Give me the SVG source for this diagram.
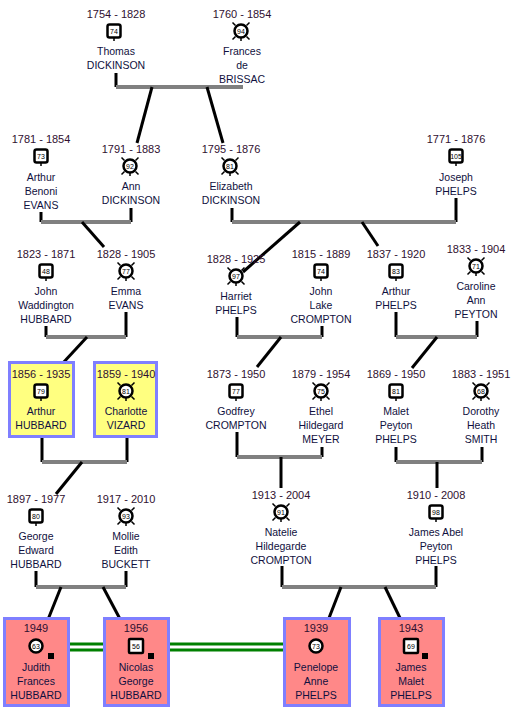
<svg xmlns="http://www.w3.org/2000/svg" xmlns:xlink="http://www.w3.org/1999/xlink" width="515" height="710" viewBox="0 0 515 710">
<style>
.d{font-family:"Liberation Sans",Arial,sans-serif;font-size:11px;fill:#301030;text-anchor:middle}
.n{font-family:"Liberation Sans",Arial,sans-serif;font-size:10.5px;fill:#101040;text-anchor:middle}
.num{font-family:"Liberation Sans",Arial,sans-serif;font-size:7px;fill:#000;text-anchor:middle}
.ic{fill:#fff;stroke:#000;stroke-width:2.5}
.tk{stroke:#000;stroke-width:1.5}
.stub{stroke:#000;stroke-width:3;fill:none}
.cpl{stroke:#808080;stroke-width:4;fill:none}
.kid{stroke:#000;stroke-width:3;fill:none}
.mar{stroke:#008000;stroke-width:3;fill:none}
.yb{fill:#ffff80;stroke:#7f7fff;stroke-width:3}
.pb{fill:#ff8888;stroke:#7f7fff;stroke-width:3}
.sq{fill:#000}
</style>
<defs>
<g id="m"><line class="tk" x1="0" y1="7" x2="0" y2="10" stroke-width="2"/><rect class="ic" x="-6.5" y="-6.5" width="13" height="13" rx="2"/></g>
<g id="f"><path class="tk" d="M5.5 5.5L8.5 8.5M-5.5 5.5L-8.5 8.5M5.5 -5.5L8.5 -8.5M-5.5 -5.5L-8.5 -8.5"/><line class="tk" x1="0" y1="7" x2="0" y2="10" stroke-width="2"/><circle class="ic" r="6.5"/></g>
<g id="ml"><rect class="ic" x="-7" y="-7" width="14" height="14" rx="1"/></g>
<g id="fl"><circle class="ic" r="6.5"/></g>
</defs>

<g id="connectors">
<line class="mar" x1="44" y1="644" x2="284" y2="644"/>
<line class="mar" x1="44" y1="650" x2="284" y2="650"/>
<line class="stub" x1="116" y1="73" x2="116" y2="87"/>
<line class="cpl" x1="116" y1="87" x2="243" y2="87"/>
<line class="kid" x1="152" y1="87" x2="137" y2="143"/>
<line class="kid" x1="207" y1="87" x2="223" y2="143"/>
<line class="stub" x1="41" y1="212" x2="41" y2="222"/>
<line class="stub" x1="131" y1="208" x2="131" y2="222"/>
<line class="cpl" x1="41" y1="222" x2="131" y2="222"/>
<line class="kid" x1="82" y1="222" x2="104" y2="247"/>
<line class="stub" x1="232" y1="208" x2="232" y2="222"/>
<line class="stub" x1="456" y1="198" x2="456" y2="222"/>
<line class="cpl" x1="232" y1="222" x2="456" y2="222"/>
<line class="kid" x1="300" y1="222" x2="243" y2="272"/>
<line class="kid" x1="362" y1="222" x2="378" y2="246"/>
<line class="stub" x1="46" y1="326" x2="46" y2="337"/>
<line class="stub" x1="126" y1="312" x2="126" y2="337"/>
<line class="cpl" x1="46" y1="337" x2="126" y2="337"/>
<line class="kid" x1="87" y1="337" x2="62" y2="364"/>
<line class="stub" x1="237" y1="317" x2="237" y2="337"/>
<line class="stub" x1="322" y1="326" x2="322" y2="337"/>
<line class="cpl" x1="237" y1="337" x2="322" y2="337"/>
<line class="kid" x1="281" y1="337" x2="257" y2="367"/>
<line class="stub" x1="396" y1="312" x2="396" y2="337"/>
<line class="stub" x1="477" y1="321" x2="477" y2="337"/>
<line class="cpl" x1="396" y1="337" x2="477" y2="337"/>
<line class="kid" x1="437" y1="337" x2="412" y2="368"/>
<line class="stub" x1="42" y1="432" x2="42" y2="462"/>
<line class="stub" x1="127" y1="432" x2="127" y2="462"/>
<line class="cpl" x1="42" y1="462" x2="127" y2="462"/>
<line class="kid" x1="82" y1="462" x2="56" y2="494"/>
<line class="stub" x1="237" y1="432" x2="237" y2="457"/>
<line class="stub" x1="322" y1="447" x2="322" y2="457"/>
<line class="cpl" x1="237" y1="457" x2="322" y2="457"/>
<line class="kid" x1="281" y1="457" x2="281" y2="488"/>
<line class="stub" x1="396" y1="447" x2="396" y2="462"/>
<line class="stub" x1="482" y1="447" x2="482" y2="462"/>
<line class="cpl" x1="396" y1="462" x2="482" y2="462"/>
<line class="kid" x1="437" y1="462" x2="437" y2="488"/>
<line class="stub" x1="36" y1="571" x2="36" y2="587"/>
<line class="stub" x1="126" y1="571" x2="126" y2="587"/>
<line class="cpl" x1="36" y1="587" x2="126" y2="587"/>
<line class="kid" x1="61" y1="587" x2="47" y2="622"/>
<line class="kid" x1="103" y1="587" x2="120" y2="619"/>
<line class="stub" x1="282" y1="566" x2="282" y2="587"/>
<line class="stub" x1="436" y1="566" x2="436" y2="587"/>
<line class="cpl" x1="282" y1="587" x2="436" y2="587"/>
<line class="kid" x1="341" y1="587" x2="329" y2="618"/>
<line class="kid" x1="385" y1="587" x2="400" y2="618"/>
</g>

<g id="thomas"><text class="d" x="116" y="18">1754 - 1828</text><use xlink:href="#m" x="114" y="31"/><text class="num" x="114" y="33.5">74</text><text class="n" x="116" y="55">Thomas</text><text class="n" x="116" y="69">DICKINSON</text></g>
<g id="frances"><text class="d" x="242" y="18">1760 - 1854</text><use xlink:href="#f" x="241" y="31"/><text class="num" x="241" y="33.5">94</text><text class="n" x="242" y="55">Frances</text><text class="n" x="242" y="69">de</text><text class="n" x="242" y="83">BRISSAC</text></g>
<g id="arthur-evans"><text class="d" x="41" y="143">1781 - 1854</text><use xlink:href="#m" x="41" y="156"/><text class="num" x="41" y="158.5">73</text><text class="n" x="41" y="181">Arthur</text><text class="n" x="41" y="195">Benoni</text><text class="n" x="41" y="209">EVANS</text></g>
<g id="ann"><text class="d" x="131" y="153">1791 - 1883</text><use xlink:href="#f" x="130" y="166"/><text class="num" x="130" y="168.5">92</text><text class="n" x="131" y="190">Ann</text><text class="n" x="131" y="204">DICKINSON</text></g>
<g id="elizabeth"><text class="d" x="231" y="153">1795 - 1876</text><use xlink:href="#f" x="230" y="166"/><text class="num" x="230" y="168.5">81</text><text class="n" x="231" y="190">Elizabeth</text><text class="n" x="231" y="204">DICKINSON</text></g>
<g id="joseph"><text class="d" x="456" y="143">1771 - 1876</text><use xlink:href="#m" x="456" y="156"/><text class="num" x="456" y="158.5" font-size="6.5">105</text><text class="n" x="456" y="181">Joseph</text><text class="n" x="456" y="195">PHELPS</text></g>
<g id="john-w"><text class="d" x="46" y="258">1823 - 1871</text><use xlink:href="#m" x="46" y="271"/><text class="num" x="46" y="273.5">48</text><text class="n" x="46" y="295">John</text><text class="n" x="46" y="309">Waddington</text><text class="n" x="46" y="323">HUBBARD</text></g>
<g id="emma"><text class="d" x="126" y="258">1828 - 1905</text><use xlink:href="#f" x="126" y="271"/><text class="num" x="126" y="273.5">77</text><text class="n" x="126" y="295">Emma</text><text class="n" x="126" y="309">EVANS</text></g>
<g id="harriet"><text class="d" x="236" y="263">1828 - 1925</text><use xlink:href="#f" x="236" y="276"/><text class="num" x="236" y="278.5">97</text><text class="n" x="236" y="300">Harriet</text><text class="n" x="236" y="314">PHELPS</text></g>
<g id="john-lake"><text class="d" x="321" y="258">1815 - 1889</text><use xlink:href="#m" x="321" y="271"/><text class="num" x="321" y="273.5">74</text><text class="n" x="321" y="295">John</text><text class="n" x="321" y="309">Lake</text><text class="n" x="321" y="323">CROMPTON</text></g>
<g id="arthur-phelps"><text class="d" x="396" y="258">1837 - 1920</text><use xlink:href="#m" x="396" y="271"/><text class="num" x="396" y="273.5">83</text><text class="n" x="396" y="295">Arthur</text><text class="n" x="396" y="309">PHELPS</text></g>
<g id="caroline"><text class="d" x="476" y="253">1833 - 1904</text><use xlink:href="#f" x="476" y="266"/><text class="num" x="476" y="268.5">71</text><text class="n" x="476" y="290">Caroline</text><text class="n" x="476" y="304">Ann</text><text class="n" x="476" y="318">PEYTON</text></g>
<g id="arthur-hubbard"><rect class="yb" x="9.5" y="362.5" width="64" height="74"/><text class="d" x="41" y="378">1856 - 1935</text><use xlink:href="#m" x="41" y="391"/><text class="num" x="41" y="393.5">79</text><text class="n" x="41" y="415">Arthur</text><text class="n" x="41" y="429">HUBBARD</text></g>
<g id="charlotte"><rect class="yb" x="94.5" y="362.5" width="62" height="74"/><text class="d" x="126" y="378">1859 - 1940</text><use xlink:href="#f" x="126" y="391"/><text class="num" x="126" y="393.5">81</text><text class="n" x="126" y="415">Charlotte</text><text class="n" x="126" y="429">VIZARD</text></g>
<g id="godfrey"><text class="d" x="236" y="378">1873 - 1950</text><use xlink:href="#m" x="236" y="391"/><text class="num" x="236" y="393.5">77</text><text class="n" x="236" y="415">Godfrey</text><text class="n" x="236" y="429">CROMPTON</text></g>
<g id="ethel"><text class="d" x="321" y="378">1879 - 1954</text><use xlink:href="#f" x="321" y="391"/><text class="num" x="321" y="393.5">75</text><text class="n" x="321" y="415">Ethel</text><text class="n" x="321" y="429">Hildegard</text><text class="n" x="321" y="443">MEYER</text></g>
<g id="malet"><text class="d" x="396" y="378">1869 - 1950</text><use xlink:href="#m" x="396" y="391"/><text class="num" x="396" y="393.5">81</text><text class="n" x="396" y="415">Malet</text><text class="n" x="396" y="429">Peyton</text><text class="n" x="396" y="443">PHELPS</text></g>
<g id="dorothy"><text class="d" x="481" y="378">1883 - 1951</text><use xlink:href="#f" x="481" y="391"/><text class="num" x="481" y="393.5">68</text><text class="n" x="481" y="415">Dorothy</text><text class="n" x="481" y="429">Heath</text><text class="n" x="481" y="443">SMITH</text></g>
<g id="george"><text class="d" x="36" y="503">1897 - 1977</text><use xlink:href="#m" x="36" y="516"/><text class="num" x="36" y="518.5">80</text><text class="n" x="36" y="540">George</text><text class="n" x="36" y="554">Edward</text><text class="n" x="36" y="568">HUBBARD</text></g>
<g id="mollie"><text class="d" x="126" y="503">1917 - 2010</text><use xlink:href="#f" x="126" y="516"/><text class="num" x="126" y="518.5">93</text><text class="n" x="126" y="540">Mollie</text><text class="n" x="126" y="554">Edith</text><text class="n" x="126" y="568">BUCKETT</text></g>
<g id="natelie"><text class="d" x="281" y="499">1913 - 2004</text><use xlink:href="#f" x="281" y="512"/><text class="num" x="281" y="514.5">91</text><text class="n" x="281" y="536">Natelie</text><text class="n" x="281" y="550">Hildegarde</text><text class="n" x="281" y="564">CROMPTON</text></g>
<g id="james-abel"><text class="d" x="436" y="499">1910 - 2008</text><use xlink:href="#m" x="436" y="512"/><text class="num" x="436" y="514.5">98</text><text class="n" x="436" y="536">James Abel</text><text class="n" x="436" y="550">Peyton</text><text class="n" x="436" y="564">PHELPS</text></g>
<g id="judith"><rect class="pb" x="4.5" y="618.5" width="64" height="87"/><text class="d" x="36" y="632">1949</text><use xlink:href="#fl" x="36" y="646"/><text class="num" x="36" y="648.5">63</text><rect class="sq" x="48" y="653" width="6" height="6"/><text class="n" x="36" y="671">Judith</text><text class="n" x="36" y="685">Frances</text><text class="n" x="36" y="699">HUBBARD</text></g>
<g id="nicolas"><rect class="pb" x="104.5" y="618.5" width="64" height="87"/><text class="d" x="136" y="632">1956</text><use xlink:href="#ml" x="136" y="646"/><text class="num" x="136" y="648.5">56</text><rect class="sq" x="148" y="653" width="6" height="6"/><text class="n" x="136" y="671">Nicolas</text><text class="n" x="136" y="685">George</text><text class="n" x="136" y="699">HUBBARD</text></g>
<g id="penelope"><rect class="pb" x="284.5" y="618.5" width="65" height="87"/><text class="d" x="316" y="632">1939</text><use xlink:href="#fl" x="316" y="646"/><text class="num" x="316" y="648.5">73</text><text class="n" x="316" y="671">Penelope</text><text class="n" x="316" y="685">Anne</text><text class="n" x="316" y="699">PHELPS</text></g>
<g id="james-malet"><rect class="pb" x="379.5" y="618.5" width="64" height="87"/><text class="d" x="411" y="632">1943</text><use xlink:href="#ml" x="411" y="646"/><text class="num" x="411" y="648.5">69</text><rect class="sq" x="422" y="653" width="6" height="6"/><text class="n" x="411" y="671">James</text><text class="n" x="411" y="685">Malet</text><text class="n" x="411" y="699">PHELPS</text></g>
</svg>
